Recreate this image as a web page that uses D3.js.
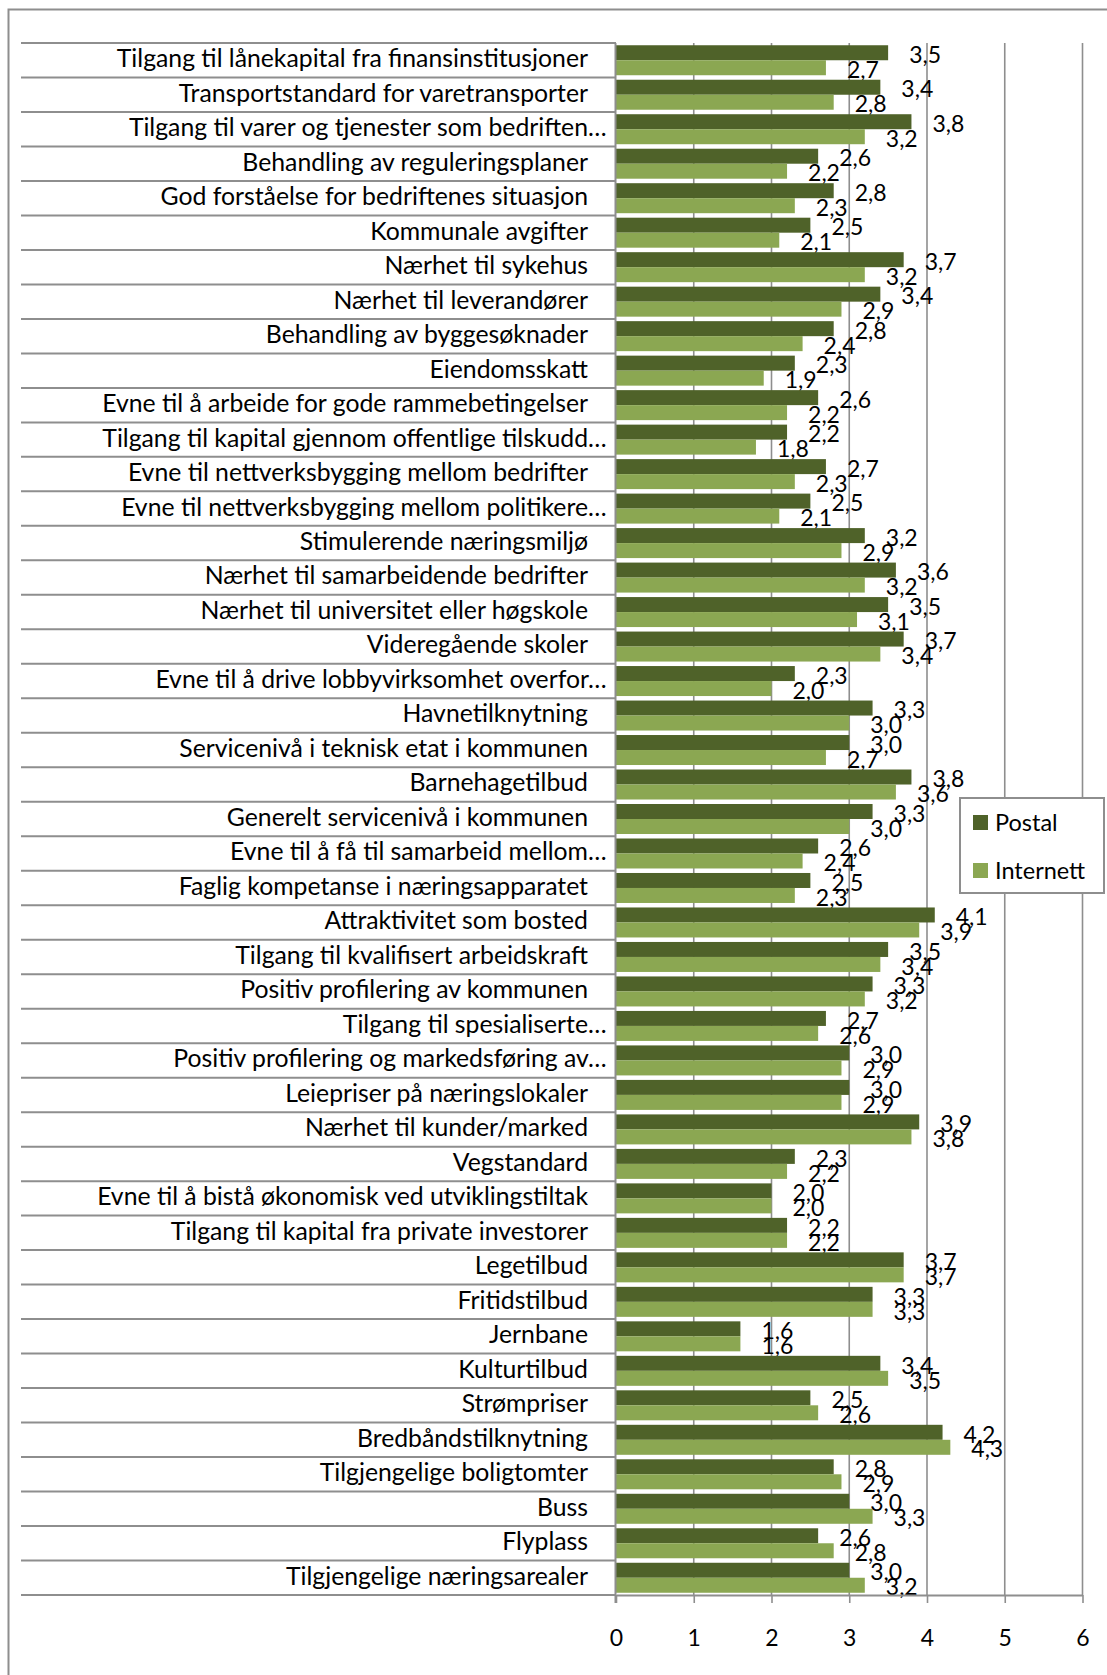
<!DOCTYPE html>
<html>
<head>
<meta charset="utf-8">
<script src="https://cdn.jsdelivr.net/npm/d3@7"></script>
<style>
  html, body { margin: 0; padding: 0; background: #fff; }
  svg { display: block; }
  text { font-family: Lato, "Open Sans", sans-serif; fill: #000; }
</style>
</head>
<body>
<script>
const categories = [
  "Tilgang til lånekapital fra finansinstitusjoner",
  "Transportstandard for varetransporter",
  "Tilgang til varer og tjenester som bedriften…",
  "Behandling av reguleringsplaner",
  "God forståelse for bedriftenes situasjon",
  "Kommunale avgifter",
  "Nærhet til sykehus",
  "Nærhet til leverandører",
  "Behandling av byggesøknader",
  "Eiendomsskatt",
  "Evne til å arbeide for gode rammebetingelser",
  "Tilgang til kapital gjennom offentlige tilskudd…",
  "Evne til nettverksbygging mellom bedrifter",
  "Evne til nettverksbygging mellom politikere…",
  "Stimulerende næringsmiljø",
  "Nærhet til samarbeidende bedrifter",
  "Nærhet til universitet eller høgskole",
  "Videregående skoler",
  "Evne til å drive lobbyvirksomhet overfor…",
  "Havnetilknytning",
  "Servicenivå i teknisk etat i kommunen",
  "Barnehagetilbud",
  "Generelt servicenivå i kommunen",
  "Evne til å få til samarbeid mellom…",
  "Faglig kompetanse i næringsapparatet",
  "Attraktivitet som bosted",
  "Tilgang til kvalifisert arbeidskraft",
  "Positiv profilering av kommunen",
  "Tilgang til spesialiserte…",
  "Positiv profilering og markedsføring av…",
  "Leiepriser på næringslokaler",
  "Nærhet til kunder/marked",
  "Vegstandard",
  "Evne til å bistå økonomisk ved utviklingstiltak",
  "Tilgang til kapital fra private investorer",
  "Legetilbud",
  "Fritidstilbud",
  "Jernbane",
  "Kulturtilbud",
  "Strømpriser",
  "Bredbåndstilknytning",
  "Tilgjengelige boligtomter",
  "Buss",
  "Flyplass",
  "Tilgjengelige næringsarealer"
];

const postal = [
  3.5, 3.4, 3.8, 2.6, 2.8, 2.5, 3.7, 3.4, 2.8, 2.3,
  2.6, 2.2, 2.7, 2.5, 3.2, 3.6, 3.5, 3.7, 2.3, 3.3,
  3.0, 3.8, 3.3, 2.6, 2.5, 4.1, 3.5, 3.3, 2.7, 3.0,
  3.0, 3.9, 2.3, 2.0, 2.2, 3.7, 3.3, 1.6, 3.4, 2.5,
  4.2, 2.8, 3.0, 2.6, 3.0
];

const internett = [
  2.7, 2.8, 3.2, 2.2, 2.3, 2.1, 3.2, 2.9, 2.4, 1.9,
  2.2, 1.8, 2.3, 2.1, 2.9, 3.2, 3.1, 3.4, 2.0, 3.0,
  2.7, 3.6, 3.0, 2.4, 2.3, 3.9, 3.4, 3.2, 2.6, 2.9,
  2.9, 3.8, 2.2, 2.0, 2.2, 3.7, 3.3, 1.6, 3.5, 2.6,
  4.3, 2.9, 3.3, 2.8, 3.2
];

const seriesNames = ["Postal", "Internett"];
const seriesColors = ["#4F6229", "#8BA752"];
const xTicks = [0, 1, 2, 3, 4, 5, 6];

const W = 1107, H = 1675;
const GRID = "#8e8e8e";

const rows = categories.map((c, i) => ({ cat: c, values: [postal[i], internett[i]] }));

const svg = d3.select("body").append("svg")
  .attr("width", W).attr("height", H);

svg.append("rect").attr("width", W).attr("height", H).attr("fill", "#fff");

// outer frame (left and top edges visible)
svg.append("path")
  .attr("d", `M8.5,${H} L8.5,9.5 L${W},9.5`)
  .attr("fill", "none").attr("stroke", GRID).attr("stroke-width", 2);

const x = d3.scaleLinear().domain([0, 6]).range([616, 1082.5]);
const y = d3.scaleBand().domain(categories).range([43, 1595]).padding(0);
const sub = d3.scaleBand().domain(seriesNames).range([0, y.bandwidth()])
  .paddingInner(0).paddingOuter(0.15);

// vertical gridlines
svg.append("g").selectAll("line")
  .data(xTicks.filter(t => t > 0))
  .join("line")
  .attr("x1", d => x(d)).attr("x2", d => x(d))
  .attr("y1", y.range()[0]).attr("y2", y.range()[1])
  .attr("stroke", GRID).attr("stroke-width", 1.6);

// category row lines
const boundaries = categories.map(c => y(c)).concat([y.range()[1]]);
svg.append("g").selectAll("line")
  .data(boundaries)
  .join("line")
  .attr("x1", 21).attr("x2", x(0))
  .attr("y1", d => d).attr("y2", d => d)
  .attr("stroke", GRID).attr("stroke-width", 2);

// bars
const rowG = svg.append("g").selectAll("g")
  .data(rows)
  .join("g")
  .attr("transform", d => `translate(0,${y(d.cat)})`);

rowG.selectAll("rect")
  .data(d => d.values.map((v, i) => ({ v, s: seriesNames[i], i })))
  .join("rect")
  .attr("x", x(0))
  .attr("y", d => sub(d.s))
  .attr("width", d => x(d.v) - x(0))
  .attr("height", sub.bandwidth())
  .attr("fill", d => seriesColors[d.i]);

// vertical category axis line
svg.append("line")
  .attr("x1", x(0) - 0.5).attr("x2", x(0) - 0.5)
  .attr("y1", y.range()[0]).attr("y2", y.range()[1] + 8)
  .attr("stroke", GRID).attr("stroke-width", 2);

// x axis
const xAxis = svg.append("g")
  .attr("transform", `translate(0,${y.range()[1]})`)
  .call(d3.axisBottom(x).tickValues(xTicks).tickSize(8).tickSizeOuter(0).tickPadding(27)
    .tickFormat(d3.format("d")));
xAxis.select(".domain").attr("stroke", GRID).attr("stroke-width", 2);
xAxis.selectAll(".tick line").attr("stroke", GRID).attr("stroke-width", 1.6);
xAxis.selectAll(".tick text")
  .attr("font-size", 23).attr("font-family", "Lato, sans-serif").attr("fill", "#000");

// value labels
const fmt = v => d3.format(".1f")(v).replace(".", ",");
rowG.selectAll("text.val")
  .data(d => d.values.map((v, i) => ({ v, s: seriesNames[i] })))
  .join("text")
  .attr("class", "val")
  .attr("x", d => x(d.v) + 21)
  .attr("y", d => sub(d.s) + sub.bandwidth() / 2 + 2 + 8.2)
  .attr("font-size", 23)
  .text(d => fmt(d.v));

// category labels - fit font size to reference width
const probe = svg.append("text").attr("font-size", 22).text(categories[0]);
const probeW = probe.node().getComputedTextLength();
probe.remove();
const catFS = Math.max(18, Math.min(26, 22 * 471.5 / probeW));
const ell = svg.append("text").attr("font-size", catFS).text("…");
const ellW = ell.node().getComputedTextLength();
ell.remove();

svg.append("g").selectAll("text")
  .data(categories)
  .join("text")
  .attr("x", d => 588 + (d.endsWith("…") ? ellW : 0))
  .attr("y", d => y(d) + y.bandwidth() / 2 + 6.9)
  .attr("text-anchor", "end")
  .attr("font-size", catFS)
  .text(d => d);

// legend
const leg = svg.append("g");
leg.append("rect")
  .attr("x", 960).attr("y", 798).attr("width", 144).attr("height", 95)
  .attr("fill", "#fff").attr("stroke", GRID).attr("stroke-width", 2);
const legItems = leg.selectAll("g.item")
  .data(seriesNames)
  .join("g")
  .attr("class", "item")
  .attr("transform", (d, i) => `translate(973,${815 + i * 48})`);
legItems.append("rect")
  .attr("width", 15).attr("height", 15)
  .attr("fill", (d, i) => seriesColors[i]);
legItems.append("text")
  .attr("x", 22).attr("y", 15.5)
  .attr("font-size", 23.5)
  .text(d => d);
</script>
</body>
</html>
